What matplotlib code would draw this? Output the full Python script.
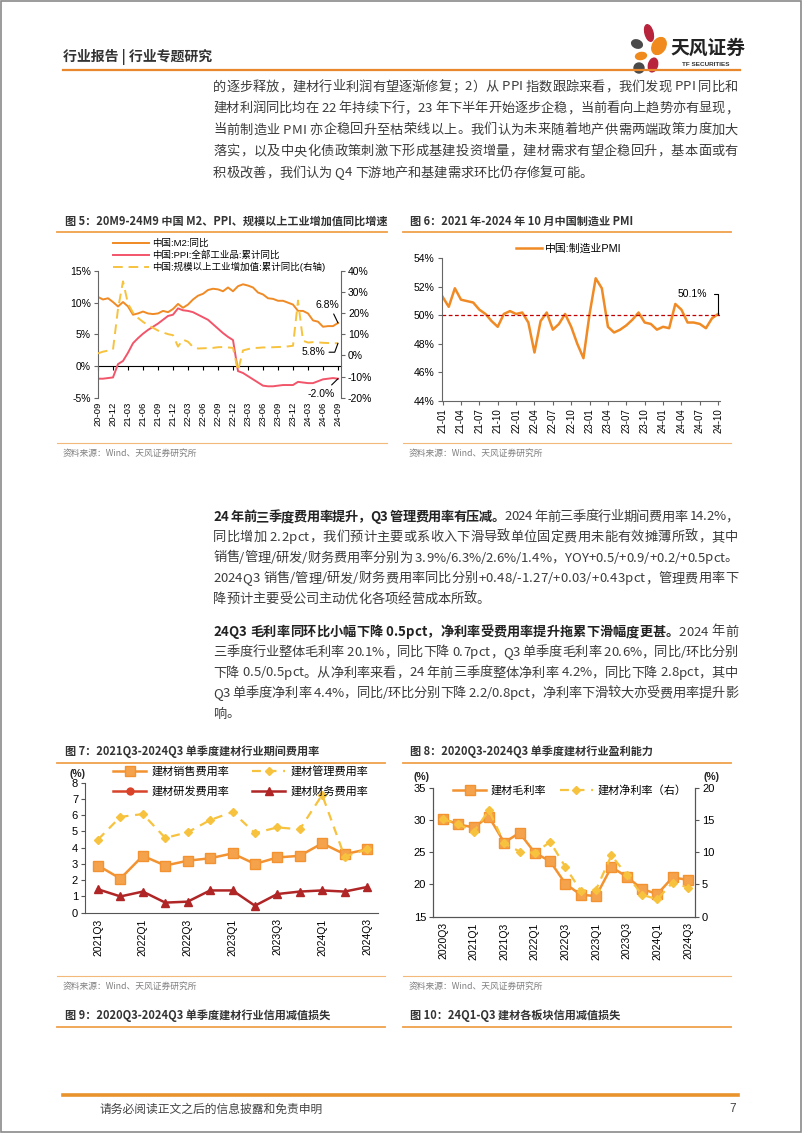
import matplotlib
matplotlib.use("Agg")
import matplotlib.pyplot as plt
from matplotlib.lines import Line2D
from matplotlib.patches import Ellipse, Rectangle
from matplotlib.font_manager import FontProperties, findfont, get_font

CJK = "Noto Sans CJK SC"
plt.rcParams["font.family"] = ["Liberation Sans", CJK]
plt.rcParams["axes.unicode_minus"] = False

# ---------------- 数据 ----------------
# 图5: 2020-09 ~ 2024-09 月度
m5_ticks = ["20-09", "20-12", "21-03", "21-06", "21-09", "21-12", "22-03", "22-06", "22-09",
            "22-12", "23-03", "23-06", "23-09", "23-12", "24-03", "24-06", "24-09"]
m2_yoy = [10.9, 10.5, 10.7, 10.1,
          9.4, 10.1, 9.4, 8.1, 8.3, 8.6, 8.3, 8.2, 8.3, 8.7, 8.5, 9.0,
          9.8, 9.2, 9.7, 10.5, 11.1, 11.4, 12.0, 12.2, 12.1, 11.8, 12.4, 11.8,
          12.6, 12.9, 12.7, 12.4, 11.6, 11.3, 10.7, 10.6, 10.3, 10.3, 10.0, 9.7,
          8.7, 8.7, 8.3, 7.2, 7.0, 6.2, 6.3, 6.3, 6.8]
ppi_yoy = [-2.0, -2.0, -1.9, -1.8,
           0.3, 0.8, 2.1, 3.6, 4.4, 5.1, 5.7, 6.2, 6.7, 7.3, 7.9, 8.1,
           9.1, 8.8, 8.7, 8.5, 8.1, 7.7, 7.3, 6.6, 5.9, 5.2, 4.6, 4.1,
           -0.8, -1.1, -1.6, -2.1, -2.6, -3.1, -3.2, -3.2, -3.1, -3.0, -3.0, -3.0,
           -2.5, -2.6, -2.7, -2.7, -2.4, -2.1, -2.0, -1.9, -2.0]
iva_yoy = [1.0, 1.8, 2.3, 2.8,
           22.0, 35.1, 24.5, 20.3, 17.8, 15.9, 14.4, 13.1, 11.8, 10.9, 10.1, 9.6,
           4.2, 7.5, 6.5, 4.0, 3.3, 3.4, 3.5, 3.6, 3.9, 4.0, 3.8, 3.6,
           -7.2, 2.4, 3.0, 3.6, 3.6, 3.8, 3.8, 3.9, 4.0, 4.1, 4.3, 4.6,
           26.0, 7.0, 6.1, 6.3, 6.2, 6.0, 5.9, 5.8, 5.8]

# 图6: 2021-01 ~ 2024-10 制造业PMI
pmi_ticks = ["21-01", "21-04", "21-07", "21-10", "22-01", "22-04", "22-07", "22-10",
             "23-01", "23-04", "23-07", "23-10", "24-01", "24-04", "24-07", "24-10"]
pmi = [51.3, 50.6, 51.9, 51.1, 51.0, 50.9, 50.4, 50.1, 49.6, 49.2, 50.1, 50.3,
       50.1, 50.2, 49.5, 47.4, 49.6, 50.2, 49.0, 49.4, 50.1, 49.2, 48.0, 47.0,
       50.1, 52.6, 51.9, 49.2, 48.8, 49.0, 49.3, 49.7, 50.2, 49.5, 49.4, 49.0,
       49.2, 49.1, 50.8, 50.4, 49.5, 49.5, 49.4, 49.1, 49.8, 50.1]
pmi_line = 50.0

# 图7: 2021Q3 ~ 2024Q3 单季度期间费用率
q7 = ["2021Q3", "2021Q4", "2022Q1", "2022Q2", "2022Q3", "2022Q4", "2023Q1",
      "2023Q2", "2023Q3", "2023Q4", "2024Q1", "2024Q2", "2024Q3"]
sales_rate = [2.9, 2.1, 3.5, 2.9, 3.2, 3.35, 3.65, 3.0, 3.4, 3.5, 4.27, 3.6, 3.9]
admin_rate = [4.5, 5.9, 6.07, 4.6, 4.95, 5.7, 6.2, 4.9, 5.25, 5.13, 7.25, 3.45, 3.9]
rd_rate = []
fin_rate = [1.44, 1.0, 1.3, 0.62, 0.68, 1.37, 1.37, 0.43, 1.15, 1.3, 1.37, 1.3, 1.58]

# 图8: 2020Q3 ~ 2024Q3 单季度盈利能力
q8 = ["2020Q3", "2020Q4", "2021Q1", "2021Q2", "2021Q3", "2021Q4", "2022Q1", "2022Q2",
      "2022Q3", "2022Q4", "2023Q1", "2023Q2", "2023Q3", "2023Q4", "2024Q1", "2024Q2", "2024Q3"]
gross_margin = [30.2, 29.3, 28.85, 30.5, 26.5, 28.0, 24.9, 23.6, 20.1, 18.4, 18.2,
                22.7, 21.2, 19.3, 18.5, 21.1, 20.7]
net_margin = [15.1, 14.4, 13.1, 16.5, 11.4, 10.1, 9.9, 11.6, 7.7, 4.0, 4.2,
              9.5, 6.5, 3.4, 2.7, 5.3, 4.5]

para1 = [
    "的逐步释放，建材行业利润有望逐渐修复；2）从 PPI 指数跟踪来看，我们发现 PPI 同比和",
    "建材利润同比均在 22 年持续下行，23 年下半年开始逐步企稳，当前看向上趋势亦有显现，",
    "当前制造业 PMI 亦企稳回升至枯荣线以上。我们认为未来随着地产供需两端政策力度加大",
    "落实，以及中央化债政策刺激下形成基建投资增量，建材需求有望企稳回升，基本面或有",
    "积极改善，我们认为 Q4 下游地产和基建需求环比仍存修复可能。",
]
para2_bold = "24 年前三季度费用率提升，Q3 管理费用率有压减。"
para2 = [
    "2024 年前三季度行业期间费用率 14.2%，",
    "同比增加 2.2pct，我们预计主要或系收入下滑导致单位固定费用未能有效摊薄所致，其中",
    "销售/管理/研发/财务费用率分别为 3.9%/6.3%/2.6%/1.4%，YOY+0.5/+0.9/+0.2/+0.5pct。",
    "2024Q3 销售/管理/研发/财务费用率同比分别+0.48/-1.27/+0.03/+0.43pct，管理费用率下",
    "降预计主要受公司主动优化各项经营成本所致。",
]
para3_bold = "24Q3 毛利率同环比小幅下降 0.5pct，净利率受费用率提升拖累下滑幅度更甚。"
para3 = [
    "2024 年前",
    "三季度行业整体毛利率 20.1%，同比下降 0.7pct，Q3 单季度毛利率 20.6%，同比/环比分别",
    "下降 0.5/0.5pct。从净利率来看，24 年前三季度整体净利率 4.2%，同比下降 2.8pct，其中",
    "Q3 单季度净利率 4.4%，同比/环比分别下降 2.2/0.8pct，净利率下滑较大亦受费用率提升影",
    "响。",
]

# ---------------- 样式 ----------------
ORANGE = "#F08A24"
YELLOW = "#F7C23E"
PINK = "#F2556A"
DARKRED = "#B02525"
RULE = "#F0A04B"
AXIS = "#666666"
TEXT = "#3c3c3c"

W, H = 802, 1133
fig = plt.figure(figsize=(W / 100, H / 100), dpi=100)
page = fig.add_axes([0, 0, 1, 1])
page.set_xlim(0, W)
page.set_ylim(H, 0)
page.axis("off")


def box(l, t, r, b):
    return [l / W, 1 - b / H, (r - l) / W, (b - t) / H]


def advance(ch, fp):
    font = get_font(findfont(fp))
    font.set_size(fp.get_size_in_points(), 100)
    g = font.load_char(ord(ch))
    return g.linearHoriAdvance / 65536


def body_line(y, segs, justify=True, x0=213, x1=738, size=9.5):
    chars = []
    for text, bold in segs:
        fp = FontProperties(family=CJK, size=size, weight="bold" if bold else "normal")
        for ch in text:
            chars.append((ch, fp, advance(ch, fp), bold))
    total = sum(c[2] for c in chars)
    gap = (x1 - x0 - total) / (len(chars) - 1) if justify and len(chars) > 1 else 0
    x = x0
    for ch, fp, w, bold in chars:
        if ch != " ":
            page.text(x, y, ch, fontproperties=fp, color="#222222" if bold else TEXT,
                      ha="left", va="center")
        x += w + gap


def caption(x, y, s, x0, x1):
    page.text(x, y, s, family=CJK, fontsize=8, weight="bold", color="#333333", va="center")
    page.plot([x0, x1], [y + 11, y + 11], color=RULE, lw=1.3)


def source(x, y, x0, x1):
    page.plot([x0, x1], [y - 10, y - 10], color="#F3B97A", lw=0.8)
    page.text(x, y, "资料来源：Wind、天风证券研究所", family=CJK, fontsize=6.3,
              color="#808080", va="center")


# 页面框
page.add_patch(Rectangle((1, 1), W - 2, H - 2, fill=False, edgecolor="#8a8a8a", lw=1.2))

# 页眉
page.text(63, 57, "行业报告 | 行业专题研究", family=CJK, fontsize=10, weight="bold",
          color="#333333", va="center")
page.plot([63, 740], [70, 70], color="#E8872B", lw=1.6)
for (ex, ey, ew, eh, ang, col) in [(649, 33, 8, 17, -15, "#B8243C"), (659, 46, 13, 18, 30, "#F08A1C"),
                                   (637, 44, 11, 8, 20, "#4a4a4a"), (641, 56, 11, 7, -10, "#F08A1C"),
                                   (639, 68, 10, 10, 0, "#4a4a4a"), (653, 65, 9, 14, 15, "#B8243C")]:
    page.add_patch(Ellipse((ex, ey), ew, eh, angle=ang, color=col))
page.text(670, 48, "天风证券", family=CJK, fontsize=13.5, weight="bold", color="#222222", va="center")
page.text(682, 65, "TF SECURITIES", fontsize=4.6, weight="bold", color="#333333", va="center")

# 正文
for i, line in enumerate(para1):
    body_line(87 + i * 21.5, [(line, False)], justify=i < len(para1) - 1)

for i, line in enumerate(para2):
    segs = [(para2_bold, True), (line, False)] if i == 0 else [(line, False)]
    body_line(517 + i * 20.5, segs, justify=i < len(para2) - 1)
for i, line in enumerate(para3):
    segs = [(para3_bold, True), (line, False)] if i == 0 else [(line, False)]
    body_line(632 + i * 20.5, segs, justify=i < len(para3) - 1)

# 图表标题
caption(65, 221, "图 5：20M9-24M9 中国 M2、PPI、规模以上工业增加值同比增速", 57, 387)
caption(410, 221, "图 6：2021 年-2024 年 10 月中国制造业 PMI", 403, 731)
source(63, 453, 57, 387)
source(409, 453, 403, 731)
caption(65, 752, "图 7：2021Q3-2024Q3 单季度建材行业期间费用率", 57, 385)
caption(410, 752, "图 8：2020Q3-2024Q3 单季度建材行业盈利能力", 403, 731)
source(63, 986, 57, 385)
source(409, 986, 403, 731)
caption(65, 1016, "图 9：2020Q3-2024Q3 单季度建材行业信用减值损失", 57, 385)
caption(410, 1016, "图 10：24Q1-Q3 建材各板块信用减值损失", 403, 731)

# 页脚
page.plot([63, 738], [1095, 1095], color="#E8932C", lw=2.6)
page.text(100, 1109, "请务必阅读正文之后的信息披露和免责申明", family=CJK, fontsize=8.5,
          color="#444444", va="center")
page.text(736, 1109, "7", fontsize=8.5, color="#444444", va="center", ha="right")

# ---------------- 图5 ----------------
ax5 = fig.add_axes(box(98, 271, 341, 397.7))
ax5.patch.set_alpha(0)
x5 = list(range(len(m2_yoy)))
l_m2, = ax5.plot(x5, m2_yoy, color=ORANGE, lw=1.4)
l_ppi, = ax5.plot(x5, ppi_yoy, color=PINK, lw=1.4)
ax5.set_xlim(0, 48.6)
ax5.set_ylim(-5, 15)
ax5r = ax5.twinx()
l_iva, = ax5r.plot(x5, iva_yoy, color=YELLOW, lw=1.4, ls=(0, (5, 3)))
ax5r.set_ylim(-20, 40)
for a in (ax5, ax5r):
    for s in ("top", "bottom"):
        a.spines[s].set_visible(False)
ax5.spines["right"].set_visible(False)
ax5r.spines["left"].set_visible(False)
ax5.spines["left"].set_color(AXIS)
ax5r.spines["right"].set_color(AXIS)
ax5.set_yticks([-5, 0, 5, 10, 15])
ax5.set_yticklabels([f"{v}%" for v in [-5, 0, 5, 10, 15]])
ax5r.set_yticks([-20, -10, 0, 10, 20, 30, 40])
ax5r.set_yticklabels([f"{v}%" for v in [-20, -10, 0, 10, 20, 30, 40]])
ax5.tick_params(axis="y", length=3, color=AXIS, labelsize=7.5, pad=2)
ax5r.tick_params(axis="y", length=3, color=AXIS, labelsize=7.5, pad=2)
ax5.set_xticks(range(0, len(x5), 3))
ax5.set_xticklabels(m5_ticks, rotation=90, fontsize=6.8)
ax5.tick_params(axis="x", length=0, pad=3)
sec = ax5.secondary_xaxis(0.25)
sec.set_xticks(range(0, len(x5), 3))
sec.tick_params(axis="x", length=3, color="black", labelbottom=False)
sec.spines["bottom"].set_color("black")
sec.spines["bottom"].set_linewidth(0.8)
ax5.legend([l_m2, l_ppi, l_iva], ["中国:M2:同比", "中国:PPI:全部工业品:累计同比",
                                   "中国:规模以上工业增加值:累计同比(右轴)"],
           loc="upper left", bbox_to_anchor=(113, 239), bbox_transform=page.transData,
           frameon=False, fontsize=6.8, handlelength=3.8, handletextpad=0.3,
           labelspacing=0.22, borderpad=0, borderaxespad=0)
arrow = dict(arrowstyle="-", color="black", lw=0.8, shrinkA=1, shrinkB=0)
ax5.annotate(f"{m2_yoy[-1]:.1f}%", xy=(x5[-1], m2_yoy[-1]), xytext=(-11, 18),
             textcoords="offset pixels", ha="center", va="center", fontsize=7.5,
             arrowprops=dict(arrow, relpos=(0.7, 0)))
ax5r.annotate(f"{iva_yoy[-1]:.1f}%", xy=(x5[-1], iva_yoy[-1]), xytext=(-25, -9),
              textcoords="offset pixels", ha="center", va="center", fontsize=7.5,
              arrowprops=dict(arrow, relpos=(1, 0.5), connectionstyle="angle,angleA=0,angleB=70,rad=0"))
ax5.annotate(f"{ppi_yoy[-1]:.1f}%", xy=(x5[-1], ppi_yoy[-1]), xytext=(-17, -15),
             textcoords="offset pixels", ha="center", va="center", fontsize=7.5,
             arrowprops=dict(arrow, relpos=(0.75, 1)))

# ---------------- 图6 ----------------
ax6 = fig.add_axes(box(441.7, 258.3, 720, 401))
ax6.patch.set_alpha(0)
x6 = list(range(len(pmi)))
l_pmi, = ax6.plot(x6, pmi, color=ORANGE, lw=1.8)
ax6.axhline(pmi_line, color="#C00000", lw=0.9, ls=(0, (3, 2)))
ax6.set_xlim(-0.15, 45.3)
ax6.set_ylim(44, 54)
for s in ("top", "right"):
    ax6.spines[s].set_visible(False)
for s in ("left", "bottom"):
    ax6.spines[s].set_color(AXIS)
ax6.set_yticks(range(44, 55, 2))
ax6.set_yticklabels([f"{v}%" for v in range(44, 55, 2)])
ax6.set_xticks(range(0, len(x6), 3))
ax6.set_xticklabels(pmi_ticks, rotation=90, fontsize=7)
ax6.tick_params(axis="y", length=3, color=AXIS, labelsize=7.5, pad=2)
ax6.tick_params(axis="x", length=3, color=AXIS, pad=2)
ax6.legend([l_pmi], ["中国:制造业PMI"], loc="upper left", bbox_to_anchor=(516, 244),
           bbox_transform=page.transData, frameon=False, fontsize=7.8, handlelength=2.4,
           handletextpad=0.3, borderpad=0, borderaxespad=0)
ax6.annotate(f"{pmi[-1]:.1f}%", xy=(x6[-1], pmi[-1]), xytext=(-26, 20),
             textcoords="offset pixels", ha="center", va="center", fontsize=7.5,
             arrowprops=dict(arrowstyle="-", color="black", lw=0.8, shrinkA=3, shrinkB=0,
                             relpos=(1, 0.5), connectionstyle="angle,angleA=0,angleB=90,rad=0"))

# ---------------- 图7 ----------------
ax7 = fig.add_axes(box(85, 782.7, 378, 912.7))
ax7.patch.set_alpha(0)
x7 = list(range(len(q7)))
h_sales, = ax7.plot(x7, sales_rate, color="#F39230", lw=1.8, marker="s", ms=6.5,
                    mfc="#F5A24C", mec="#F39230")
h_admin, = ax7.plot(x7, admin_rate, color=YELLOW, lw=1.6, ls=(0, (4, 3)), marker="D", ms=4.2)
h_rd, = ax7.plot(range(len(rd_rate)), rd_rate, color="#D8432A", lw=1.8, marker="o", ms=5)
h_fin, = ax7.plot(x7, fin_rate, color=DARKRED, lw=1.8, marker="^", ms=5.5)
ax7.set_xlim(-0.58, 12.49)
ax7.set_ylim(0, 8)
for s in ("top", "right"):
    ax7.spines[s].set_visible(False)
for s in ("left", "bottom"):
    ax7.spines[s].set_color("#555555")
ax7.set_yticks(range(0, 9))
ax7.set_xticks(x7[::2])
ax7.set_xticklabels(q7[::2], rotation=90, fontsize=7.5)
ax7.tick_params(axis="x", length=0, pad=4)
ax7.tick_params(axis="y", length=3, color="#555555", labelsize=8, pad=2)
ax7.legend([h_sales, h_rd, h_admin, h_fin], ["建材销售费用率", "建材研发费用率", "建材管理费用率", "建材财务费用率"],
           ncol=2, loc="upper left", bbox_to_anchor=(113, 766), bbox_transform=page.transData,
           frameon=False, fontsize=8, handlelength=3.0, handletextpad=0.5, columnspacing=2.0,
           labelspacing=0.85, borderpad=0, borderaxespad=0)
page.text(78, 774, "(%)", fontsize=7.5, weight="bold", ha="center", va="center", color="#222222")

# ---------------- 图8 ----------------
ax8 = fig.add_axes(box(433, 787.7, 695, 916.7))
ax8.patch.set_alpha(0)
x8 = list(range(len(q8)))
h_gross, = ax8.plot(x8, gross_margin, color="#F39230", lw=1.8, marker="s", ms=6.5,
                    mfc="#F5A24C", mec="#F39230")
ax8.set_xlim(-0.65, 16.46)
ax8.set_ylim(15, 35)
ax8r = ax8.twinx()
h_net, = ax8r.plot(x8, net_margin, color=YELLOW, lw=1.6, ls=(0, (4, 3)), marker="D", ms=4.2)
ax8r.set_ylim(0, 20)
for a in (ax8, ax8r):
    a.spines["top"].set_visible(False)
    for s in ("left", "right", "bottom"):
        a.spines[s].set_color("#555555")
ax8.set_yticks(range(15, 36, 5))
ax8r.set_yticks(range(0, 21, 5))
ax8.set_xticks(x8[::2])
ax8.set_xticklabels(q8[::2], rotation=90, fontsize=7.5)
ax8.tick_params(axis="x", length=0, pad=4)
ax8.tick_params(axis="y", length=3, color="#555555", labelsize=8, pad=2)
ax8r.tick_params(axis="y", length=3, color="#555555", labelsize=8, pad=2)
ax8r.legend([h_gross, h_net], ["建材毛利率", "建材净利率（右）"], ncol=2, loc="upper left",
            bbox_to_anchor=(453, 785), bbox_transform=page.transData, frameon=False,
            fontsize=8, handlelength=3.0, handletextpad=0.4, columnspacing=1.2,
            borderpad=0, borderaxespad=0)
page.text(421, 777, "(%)", fontsize=7.5, weight="bold", ha="center", va="center", color="#222222")
page.text(711, 777, "(%)", fontsize=7.5, weight="bold", ha="center", va="center", color="#222222")

fig.savefig("out.png", dpi=100)
